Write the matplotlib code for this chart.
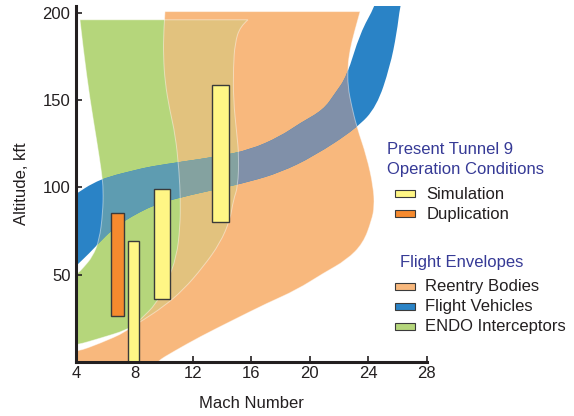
import matplotlib.pyplot as plt
from matplotlib.patches import PathPatch, Polygon, Rectangle
from matplotlib.path import Path
import numpy as np

plt.rcParams['font.family'] = ['Liberation Sans', 'DejaVu Sans']

# flight envelope outlines, (Mach, altitude in kft)
reentry_mach = [10.09, 23.44, 23.03, 22.75, 22.6, 22.6, 22.87, 23.21, 23.9, 24.35, 24.42,
                24.24, 23.66, 22.53, 20.93, 19.1, 17.05, 14.77, 12.49, 10.66, 9.52, 9.3,
                3.5, 3.5, 4.07, 5.64, 7.47, 8.38, 9.52, 10.21, 10.89, 11.12, 11.15, 11.05,
                10.8, 10.4, 10.1, 9.98, 10.0]
reentry_alt = [200.8, 200.8, 188.5, 178.9, 169.3, 158.0, 146.4, 134.9, 117.7, 100.5, 89.0,
               81.4, 68.1, 58.5, 50.9, 41.3, 33.6, 24.1, 14.5, 5.9, 0.2, -3.0,
               -3.0, 5.6, 5.9, 10.7, 17.4, 24.1, 33.6, 45.1, 60.4, 77.6, 92.9, 110.0,
               130.0, 145.0, 160.0, 175.0, 190.0]

endo_mach = [4.27, 15.77, 15.23, 14.88, 14.77, 14.77, 15.0, 15.15, 15.08, 14.77, 14.54,
             13.86, 12.71, 11.34, 9.98, 8.61, 7.47, 5.64, 4.05, 3.5,
             3.5, 4.14, 4.46, 5.14, 5.6, 5.83, 5.87, 5.76, 5.41, 4.96, 4.5]
endo_alt = [196.1, 196.1, 192.3, 182.7, 169.3, 150.2, 131.1, 118.0, 100.5, 92.9, 81.4,
            68.1, 54.6, 41.3, 31.7, 24.1, 18.3, 13.6, 9.7, 9.3,
            47.0, 50.9, 53.7, 60.4, 70.0, 85.3, 98.6, 108.2, 127.3, 150.2, 178.9]

vehicle_mach = [3.5, 4.07, 5.14, 6.28, 8.06, 9.07, 11.34, 13.63, 15.91, 17.96, 19.33,
                20.93, 21.73, 22.53, 23.44, 24.47, 24.8,
                26.4, 26.18, 25.95, 25.49, 24.58, 23.21, 20.24, 17.96, 15.91, 13.63,
                11.2, 9.4, 8.38, 7.24, 6.44, 5.6, 4.91, 4.07, 3.5]
vehicle_alt = [93.5, 96.7, 102.5, 106.3, 110.0, 112.0, 114.9, 117.7, 121.6, 129.2, 136.9,
               144.5, 154.0, 163.6, 188.5, 204.1, 212.0,
               212.0, 204.1, 188.5, 169.3, 146.4, 134.0, 117.7, 108.6, 103.4, 99.0,
               94.5, 90.0, 86.0, 80.5, 75.5, 68.5, 62.3, 55.6, 51.0]

# Tunnel 9 operating boxes
sim_mach_lo = [7.58, 9.36, 13.33]
sim_mach_hi = [8.33, 10.45, 14.45]
sim_alt_lo = [0, 36, 80.5]
sim_alt_hi = [69.5, 99, 158.8]

dup_mach_lo = [6.4]
dup_mach_hi = [7.3]
dup_alt_lo = [26.4]
dup_alt_hi = [85.6]

x_ticks = [4, 8, 12, 16, 20, 24, 28]
y_ticks = [50, 100, 150, 200]

tunnel_labels = ['Simulation', 'Duplication']
tunnel_colors = ['#fff685', '#f68a2e']
envelope_labels = ['Reentry Bodies', 'Flight Vehicles', 'ENDO Interceptors']
envelope_colors = ['#f8b87d', '#2a83c6', '#b5d67b']

dark = '#231f20'
title_blue = '#363a96'

fig = plt.figure(figsize=(5.74, 4.16), dpi=100)
ax = fig.add_axes([76 / 574, 54 / 416, 350.7 / 574, 356 / 416])
ax.set_xlim(4, 28)
ax.set_ylim(0, 204)


def outline(mach, alt, corners):
    # closed outline, rounded through the read points except at the corners
    pts = np.column_stack([mach, alt])
    n = len(pts)
    verts = [pts[0]]
    codes = [Path.MOVETO]
    pending = None
    for i in list(range(1, n)) + [0]:
        p = pts[i]
        if i in corners:
            if pending is None:
                verts.append(p)
                codes.append(Path.LINETO)
            else:
                verts += [pending, p]
                codes += [Path.CURVE3, Path.CURVE3]
            pending = None
        elif pending is None:
            pending = p
        else:
            verts += [pending, (pending + p) / 2]
            codes += [Path.CURVE3, Path.CURVE3]
            pending = p
    return Path(verts, codes)


reentry_path = outline(reentry_mach, reentry_alt, {0, 1, 21, 22, 23})
endo_path = outline(endo_mach, endo_alt, {0, 1, 19, 20})
vehicle_path = outline(vehicle_mach, vehicle_alt, {0, 16, 17, 35})


def region(path, color, z, **kw):
    p = PathPatch(path, facecolor=color, edgecolor='none', zorder=z, **kw)
    ax.add_patch(p)
    return p


green = region(endo_path, '#b5d67b', 1.0)
orange = region(reentry_path, '#f8b87d', 1.1)
region(vehicle_path, '#2a83c6', 1.2)

# overlaps get their own tints
bg = region(vehicle_path, '#5e9cb1', 1.3)
bg.set_clip_path(green)
bo = region(vehicle_path, '#8090a9', 1.4)
bo.set_clip_path(orange)
go = region(endo_path, '#94e682', 1.5, alpha=0.22)
go.set_clip_path(orange)

# faint light outlines
for path in [endo_path, reentry_path]:
    ax.add_patch(PathPatch(path, fill=False, edgecolor='white', alpha=0.45,
                           lw=0.7, zorder=1.6))

ax.bar(sim_mach_lo, np.subtract(sim_alt_hi, sim_alt_lo),
       width=np.subtract(sim_mach_hi, sim_mach_lo), bottom=sim_alt_lo,
       align='edge', color=tunnel_colors[0], edgecolor='#3a3a3a', linewidth=1, zorder=3)
ax.bar(dup_mach_lo, np.subtract(dup_alt_hi, dup_alt_lo),
       width=np.subtract(dup_mach_hi, dup_mach_lo), bottom=dup_alt_lo,
       align='edge', color=tunnel_colors[1], edgecolor='#3a3a3a', linewidth=1, zorder=3)

for s in ['top', 'right']:
    ax.spines[s].set_visible(False)
for s in ['left', 'bottom']:
    ax.spines[s].set_linewidth(2.2)
    ax.spines[s].set_color(dark)
    ax.spines[s].set_zorder(5)

ax.set_xticks(x_ticks)
ax.set_yticks(y_ticks)
ax.tick_params(direction='in', length=4, width=1.2, colors=dark, labelsize=12)
ax.tick_params(axis='x', pad=3)
ax.tick_params(axis='y', pad=4)
ax.set_xlabel('Mach Number', fontsize=12, color=dark, labelpad=11)
ax.set_ylabel('Altitude, kft', fontsize=12, color=dark, labelpad=10)


def fx(x):
    return x / 574


def fy(y):
    return 1 - y / 416


# legend drawn by hand
fig.text(fx(387.3), fy(154), 'Present Tunnel 9', color=title_blue, fontsize=12, va='baseline')
fig.text(fx(387.3), fy(174), 'Operation Conditions', color=title_blue, fontsize=12, va='baseline')
fig.text(fx(400), fy(266.7), 'Flight Envelopes', color=title_blue, fontsize=12, va='baseline')

for i, (lab, col) in enumerate(zip(tunnel_labels, tunnel_colors)):
    yc = 193.3 + 20 * i
    fig.add_artist(Rectangle((fx(394.5), fy(yc + 3.3)), 20 / 574, 6.6 / 416,
                             transform=fig.transFigure, facecolor=col,
                             edgecolor='#3a3a3a', lw=0.8))
    fig.text(fx(426.5), fy(yc + 5.7), lab, color=dark, fontsize=12, va='baseline')

for i, (lab, col) in enumerate(zip(envelope_labels, envelope_colors)):
    yc = 286.3 + 20 * i
    fig.add_artist(Rectangle((fx(394.5), fy(yc + 3.3)), 20 / 574, 6.6 / 416,
                             transform=fig.transFigure, facecolor=col,
                             edgecolor='#3a3a3a', lw=0.8))
    fig.text(fx(425), fy(yc + 4.7), lab, color=dark, fontsize=12, va='baseline')

fig.savefig('out.png', dpi=100)
